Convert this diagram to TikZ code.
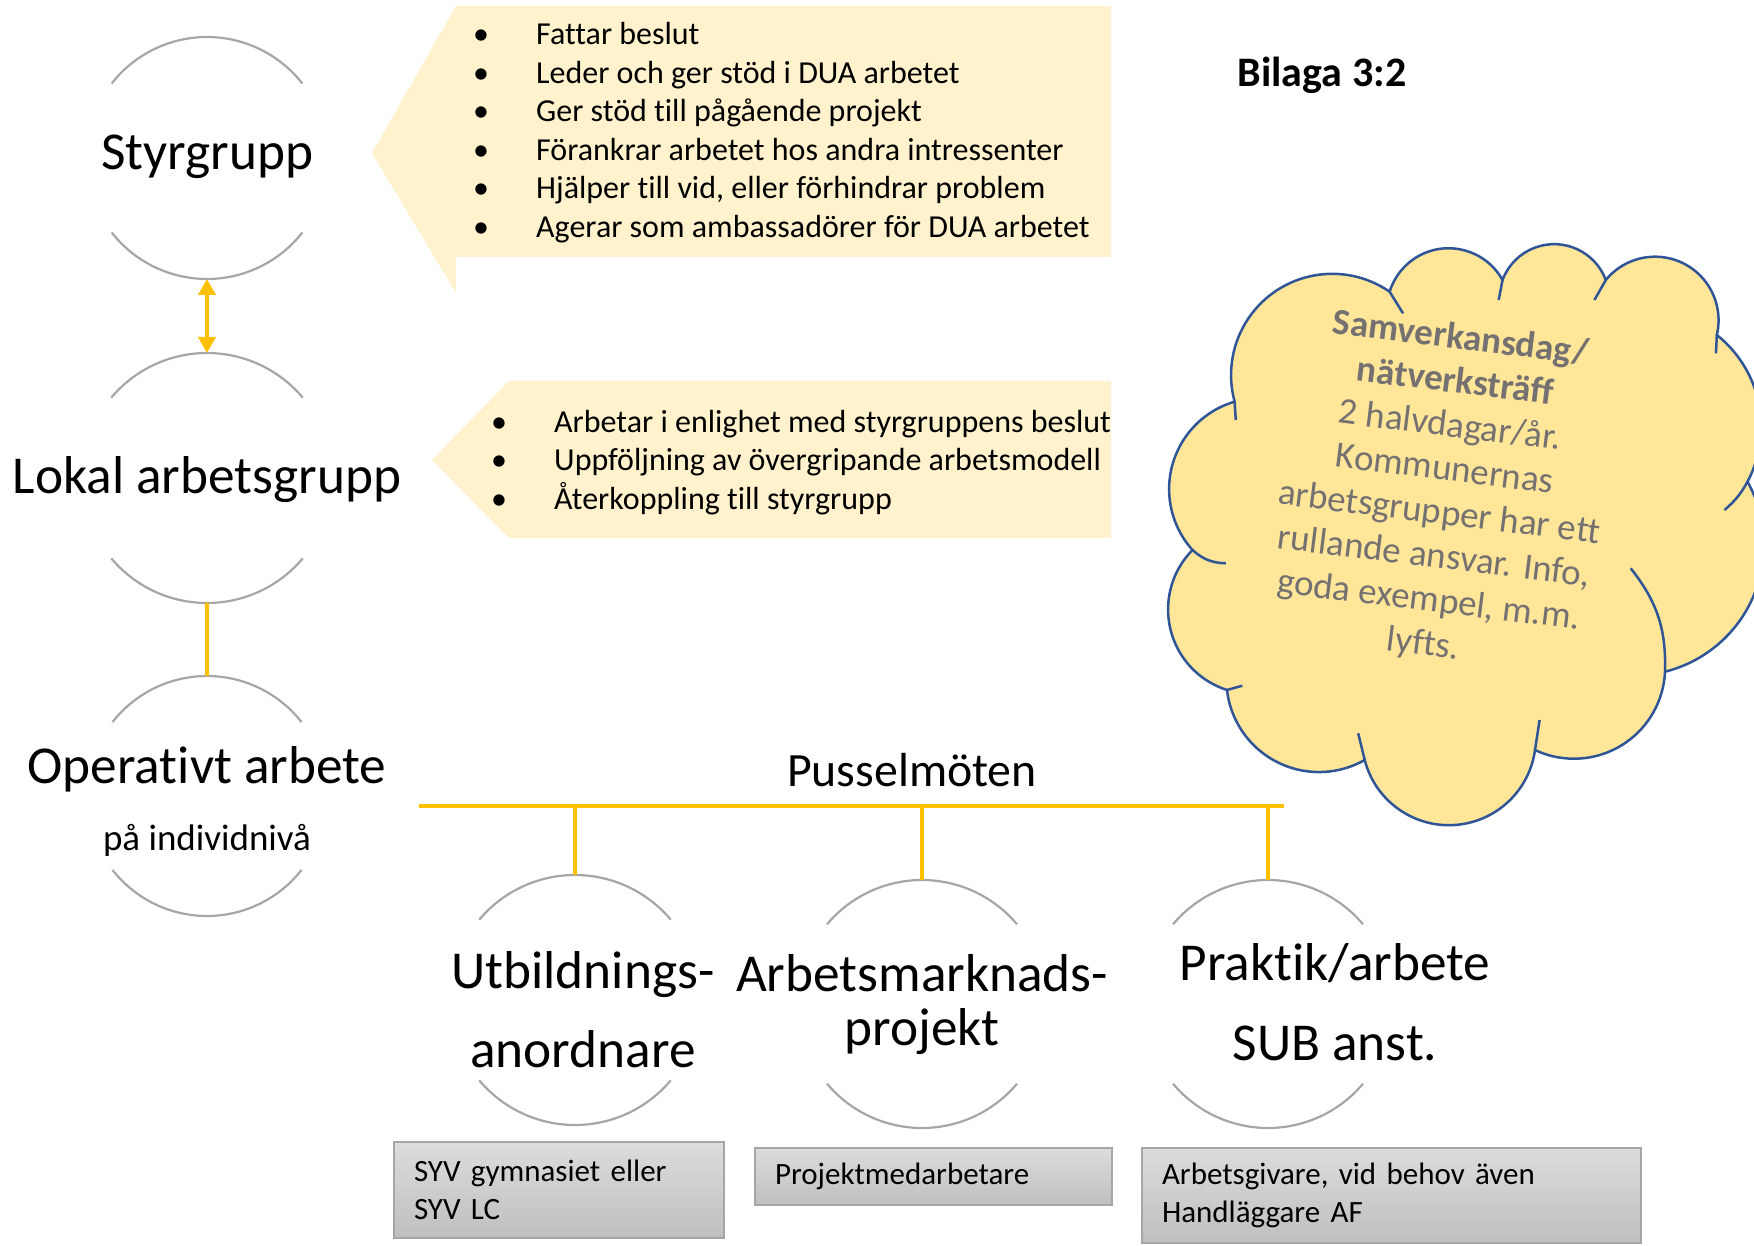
\documentclass[tikz,border=0pt]{standalone}
\usepackage{fontspec}
\setmainfont[Ligatures=NoCommon]{Carlito}
\usetikzlibrary{arrows.meta,calc}
\definecolor{GoldClr}{HTML}{FFC000}
\definecolor{CalloutClr}{HTML}{FFF2CC}
\definecolor{CloudClr}{HTML}{FFE699}
\definecolor{CloudLineClr}{HTML}{2F5597}
\definecolor{RingClr}{HTML}{A6A6A6}
\definecolor{CloudTxtClr}{HTML}{767171}
\definecolor{BoxTopClr}{HTML}{DCDCDC}
\definecolor{BoxBotClr}{HTML}{BFBFBF}

\begin{document}
\begin{tikzpicture}[x=1pt,y=1pt,
  ring/.style={circle,inner sep=0pt,outer sep=0pt,minimum size=250pt},
  ringline/.style={line width=2.2pt,color=RingClr},
  goldline/.style={line width=4.5pt,color=GoldClr},
  cloudline/.style={draw=CloudLineClr,line width=2.5pt},
  lbl/.style={font=\fontsize{53.3}{64}\selectfont,anchor=base,inner sep=0pt},
  item/.style={font=\fontsize{32}{38}\selectfont,anchor=base west,inner sep=0pt},
  bul/.style={font=\fontsize{32}{38}\selectfont,anchor=base,inner sep=0pt},
  graybox/.style={draw=RingClr,line width=1.5pt,top color=BoxTopClr,bottom color=BoxBotClr,
    font=\fontsize{31}{38}\selectfont,align=left,inner xsep=20pt,inner ysep=0pt}]

\useasboundingbox (0,0) rectangle (1754,-1246);

% callouts
\fill[CalloutClr] (456,-6) -- (1111,-6) -- (1111,-257) -- (456,-257) -- (456,-293) -- (372,-153) -- cycle;
\fill[CalloutClr] (509,-381) -- (1111,-381) -- (1111,-538) -- (509,-538) -- (432,-460) -- cycle;

\foreach \t [count=\i] in {Fattar beslut, Leder och ger stöd i DUA arbetet, Ger stöd till pågående projekt,
  Förankrar arbetet hos andra intressenter, {Hjälper till vid, eller förhindrar problem},
  Agerar som ambassadörer för DUA arbetet}{
  \node[bul] (sb\i) at (481,{-45-38.5*(\i-1)}) {\textbullet};
  \node[item] (st\i) at (536,{-45-38.5*(\i-1)}) {\t};
}
\foreach \t [count=\i] in {Arbetar i enlighet med styrgruppens beslut, Uppföljning av övergripande arbetsmodell,
  Återkoppling till styrgrupp}{
  \node[bul] (lb\i) at (499,{-432-38.5*(\i-1)}) {\textbullet};
  \node[item] (lt\i) at (554,{-432-38.5*(\i-1)}) {\t};
}

% cloud: junctions J, one point on each lobe P
\foreach \n/\x/\y in {J1/1234.6/401.7, P2/1171.5/468.3, J2/1192.5/550, P3/1168.4/616.7, J3/1227/690,
  P4/1286/766, J4/1364.7/760, P5/1443.2/825, J5/1535/750, P6/1619.2/746.7, J6/1665/671.7,
  P7/1726/637, J7/1747.5/481.7, P8/1745.5/368.3, J8/1716.8/335, P9/1655.6/256.7, J9/1605.8/280,
  P10/1558/244.3, J10/1502.5/280, P11/1450.9/248.3, J11/1389.6/291.7, P1/1274.8/291.7}
  \coordinate (\n) at (\x,-\y);

\filldraw[fill=CloudClr,cloudline] (J1)
  \foreach \ja/\jm/\jb in {J1/P2/J2, J2/P3/J3, J3/P4/J4, J4/P5/J5, J5/P6/J6, J6/P7/J7,
    J7/P8/J8, J8/P9/J9, J9/P10/J10, J10/P11/J11, J11/P1/J1}{
    let \p1=($(\jb)-(\ja)$), \p2=($(\ja)-(\jm)$), \p3=($(\jb)-(\jm)$),
        \n1={atan2(\y1,\x1)}, \n2={veclen(\x1,\y1)},
        \n3={abs(atan2(\y2,\x2)-atan2(\y3,\x3))}, \n4={360-2*min(\n3,360-\n3)}
    in arc[start angle=\n1-90-\n4/2, delta angle=\n4, radius={\n2/(2*sin(\n4/2))}]
  } -- cycle;

\draw[cloudline] (J1) -- (1235.8,-420);
\draw[cloudline] (J2) to[bend right=20] (1225.8,-563.3);
\draw[cloudline] (J3) -- (1242.3,-685.7);
\draw[cloudline] (J4) -- (1358.2,-733.3);
\draw[cloudline] (J5) -- (1539.6,-720);
\draw[cloudline] (J6) to[bend right=20] (1630.7,-568.3);
\draw[cloudline] (J7) to[bend left=10] (1724.5,-510);
\draw[cloudline] (J8) -- (1716,-353.3);
\draw[cloudline] (J9) -- (1594.4,-300);
\draw[cloudline] (J10) -- (1498.7,-300);
\draw[cloudline] (J11) -- (1403,-313.3);

\node[rotate=-7,align=center,text=CloudTxtClr,font=\fontsize{37}{44}\selectfont] (cloudtxt) at (1442,-492)
  {\textbf{Samverkansdag/}\\\textbf{nätverksträff}\\2 halvdagar/år.\\Kommunernas\\arbetsgrupper har ett\\
   rullande ansvar. Info,\\goda exempel, m.m.\\lyfts.};

\node[font=\bfseries\fontsize{42}{50}\selectfont,anchor=base,inner sep=0pt] (bilaga) at (1322,-87) {Bilaga 3:2};

% rings
\node[ring,minimum size=242pt] (styr) at (207,-158) {};
\node[ring] (lokal) at (207,-478) {};
\node[ring,minimum size=240pt] (oper) at (207,-796) {};
\node[ring] (utb) at (575,-1000) {};
\node[ring,minimum size=248pt] (arbm) at (922,-1004) {};
\node[ring,minimum size=248pt] (prak) at (1268,-1004) {};

\foreach \n/\r/\a in {styr/121/38, lokal/125/40, oper/120/38, utb/125/40, arbm/124/40, prak/124/40}{
  \draw[ringline] (\n.\a) arc[start angle=\a,end angle=180-\a,radius=\r];
  \draw[ringline] (\n.-\a) arc[start angle=-\a,end angle=-180+\a,radius=\r];
}

\node[lbl] (styrtxt) at (207,-170) {Styrgrupp};
\node[lbl] (lokaltxt) at (207,-493) {Lokal arbetsgrupp};
\node[lbl] (opertxt) at (207,-783) {Operativt arbete};
\node[lbl,font=\fontsize{37}{44}\selectfont] (opersub) at (207,-850) {på individnivå};
\node[lbl] (utbtxt1) at (583,-988) {Utbildnings-};
\node[lbl] (utbtxt2) at (583,-1067) {anordnare};
\node[lbl] (arbtxt1) at (922,-991) {Arbetsmarknads-};
\node[lbl] (arbtxt2) at (922,-1045) {projekt};
\node[lbl] (praktxt1) at (1335,-980) {Praktik/arbete};
\node[lbl] (praktxt2) at (1335,-1060) {SUB anst.};

% connectors
\draw[goldline,{Triangle[length=16pt,width=17pt]}-{Triangle[length=16pt,width=17pt]}] (styr.south) -- (lokal.north);
\draw[goldline] (lokal.south) -- (oper.north);

\node[font=\fontsize{47.8}{57}\selectfont,anchor=base,inner sep=0pt] (puss) at (912,-786) {Pusselmöten};
\coordinate (pl) at (419,-806);
\coordinate (pr) at (1284,-806);
\draw[goldline] (pl) -- (pr);
\foreach \n in {utb,arbm,prak}
  \draw[goldline] (\n.north |- pl) -- (\n.north);

% boxes
\node[graybox,text width=290pt,minimum height=96pt] (syv) at (559,-1190) {SYV gymnasiet eller\\SYV LC};
\node[graybox,text width=317pt,minimum height=57pt] (projm) at (933.5,-1176.5) {Projektmedarbetare};
\node[graybox,text width=459pt,minimum height=95pt] (agiv) at (1391.5,-1195.5) {Arbetsgivare, vid behov även\\Handläggare AF};

\end{tikzpicture}
\end{document}
